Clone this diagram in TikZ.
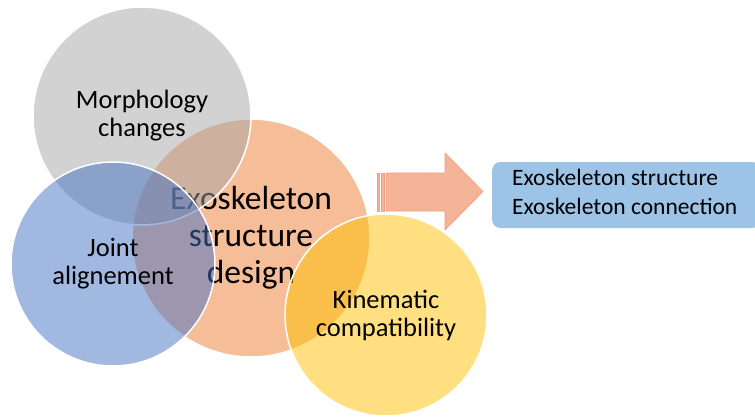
\documentclass[tikz,border=0pt]{standalone}
\usepackage{fontspec}
\setmainfont{Carlito}
\usetikzlibrary{positioning}

\definecolor{morphgray}{HTML}{A5A5A5}
\definecolor{designorange}{HTML}{ED7D31}
\definecolor{jointblue}{HTML}{4472C4}
\definecolor{kinyellow}{HTML}{FFC000}
\definecolor{arrowfill}{HTML}{F5B397}
\definecolor{arrowline}{HTML}{EFA07F}
\definecolor{resultblue}{HTML}{9DC3E6}

\begin{document}
\begin{tikzpicture}[
  x=1pt, y=-1pt,
  venn/.style={circle, draw=white, line width=1.5pt, fill opacity=0.5, text opacity=1, align=center, inner sep=0pt},
  smalltext/.style={font=\fontsize{26.5}{28}\selectfont},
  bigtext/.style={font=\fontsize{33.5}{37}\selectfont},
  stripe/.style={fill=arrowfill, draw=arrowline, line width=0.6pt},
  resultbox/.style={rectangle, rounded corners=8pt, fill=resultblue, minimum width=268pt, minimum height=66pt},
  resulttext/.style={align=left, inner sep=0pt, font=\fontsize{23.5}{29}\selectfont}
]
\useasboundingbox (0,0) rectangle (755,416);

% venn circles, back to front
\node[venn, bigtext, fill=designorange, minimum size=238pt] (design) at (251,238) {Exoskeleton\\structure\\design};
\node[venn, smalltext, fill=morphgray, minimum size=218pt] (morph) at (142,116) {Morphology\\changes};
\node[venn, smalltext, fill=jointblue, minimum size=204pt] (joint) at (113,264) {Joint\\alignement};
\node[venn, smalltext, fill=kinyellow, minimum size=202pt] (kin) at (386,315) {Kinematic\\compatibility};

% striped arrow
\filldraw[stripe] (386,173) -- (445,173) -- (445,153) -- (483,191.5) -- (445,230) -- (445,211) -- (386,211) -- cycle;
\filldraw[stripe] (381,173) rectangle (384.5,211);
\filldraw[stripe] (377,173) rectangle (379.5,211);

% result
\node[resultbox, anchor=west] (result) at (492,195) {};
\node[resulttext, anchor=west, xshift=20pt, yshift=3.5pt] (resultlabel) at (result.west) {Exoskeleton structure\\Exoskeleton connection};
\end{tikzpicture}
\end{document}
